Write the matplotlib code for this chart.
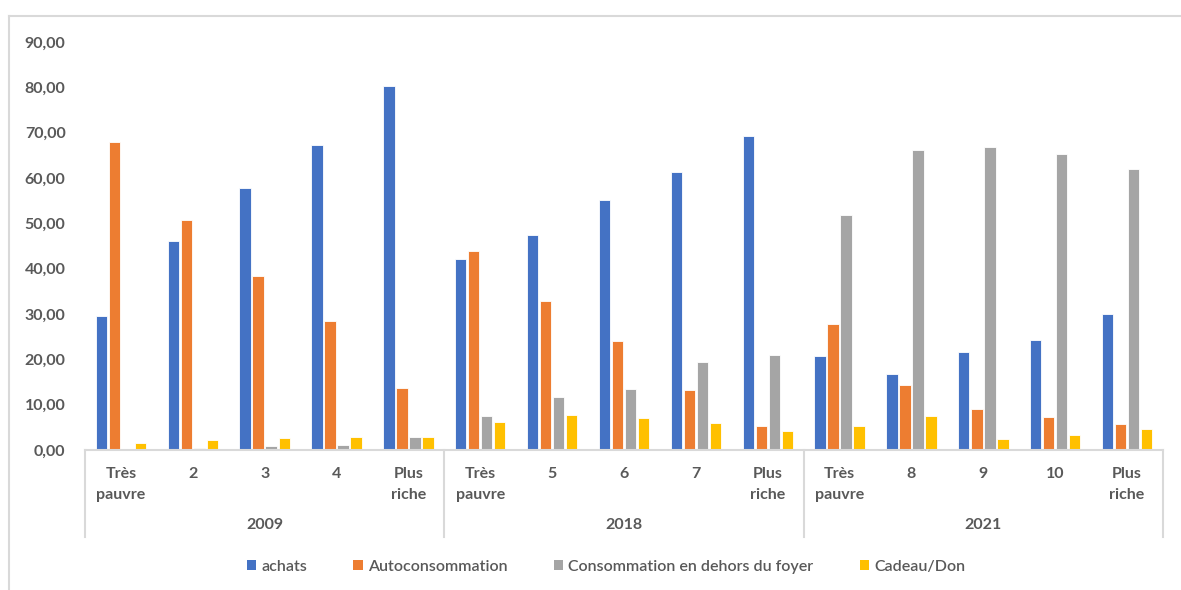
import numpy as np
import matplotlib
matplotlib.use("Agg")
import matplotlib.pyplot as plt
from matplotlib.lines import Line2D
from matplotlib.patches import Patch

plt.rcParams['font.family'] = ['Lato', 'DejaVu Sans']

years = ['2009', '2018', '2021']
categories = ['Très\npauvre', '2', '3', '4', 'Plus\nriche',
              'Très\npauvre', '5', '6', '7', 'Plus\nriche',
              'Très\npauvre', '8', '9', '10', 'Plus\nriche']

achats = [29.6, 46.1, 57.8, 67.3, 80.3,
          42.1, 47.4, 55.2, 61.3, 69.3,
          20.7, 16.8, 21.6, 24.3, 30.0]
autoconso = [68.0, 50.7, 38.4, 28.5, 13.7,
             43.9, 32.9, 24.0, 13.2, 5.3,
             27.8, 14.3, 9.0, 7.3, 5.7]
hors_foyer = [0.0, 0.4, 0.8, 1.0, 2.9,
              7.5, 11.7, 13.4, 19.4, 21.0,
              51.8, 66.2, 66.8, 65.3, 62.0]
cadeau = [1.5, 2.3, 2.6, 2.9, 2.9,
          6.2, 7.7, 7.0, 6.0, 4.2,
          5.3, 7.5, 2.4, 3.3, 4.6]

series = [('achats', achats, '#4472C4'),
          ('Autoconsommation', autoconso, '#ED7D31'),
          ('Consommation en dehors du foyer', hors_foyer, '#A5A5A5'),
          ('Cadeau/Don', cadeau, '#FFC000')]

W, H = 1181, 590
fig = plt.figure(figsize=(W / 100, H / 100), dpi=100)
ax = fig.add_axes([85 / W, (H - 450) / H, (1163 - 85) / W, (450 - 42) / H])

txt = '#595959'
fs = 11.5
x = np.arange(len(categories))
step = 0.181
for i, (name, vals, col) in enumerate(series):
    ax.bar(x + (i - 1.5) * step, vals, width=0.158, color=col,
           edgecolor='white', linewidth=0.6, label=name, zorder=2)

ax.set_xlim(-0.5, len(categories) - 0.5)
ax.set_ylim(0, 90)
ax.set_yticks(np.arange(0, 91, 10))
ax.set_yticklabels([f'{v:.2f}'.replace('.', ',') for v in range(0, 91, 10)],
                   fontsize=fs, fontweight='bold', color=txt)
ax.tick_params(axis='y', length=0, pad=14)
ax.set_xticks(x)
ax.set_xticklabels(categories, fontsize=fs, fontweight='bold', color=txt,
                   linespacing=1.7)
ax.tick_params(axis='x', length=0, pad=12)

for s in ['top', 'right', 'left']:
    ax.spines[s].set_visible(False)
ax.spines['bottom'].set_color('#D9D9D9')
ax.spines['bottom'].set_linewidth(1.5)

# group separators and labels
tr = ax.get_xaxis_transform()
sep_bottom = (450 - 537) / (450 - 42)
for b in [-0.5, 4.5, 9.5, 14.5]:
    ax.add_line(Line2D([b, b], [0, sep_bottom], transform=tr, color='#D9D9D9',
                       linewidth=1.5, clip_on=False))
lab_y = (450 - 525) / (450 - 42)
for g, yr in enumerate(years):
    ax.text(g * 5 + 2, lab_y, yr, transform=tr, ha='center', va='center',
            fontsize=fs, fontweight='bold', color=txt)

# outer chart frame (left and top only visible)
fig.add_artist(Line2D([9 / W, 9 / W], [0, 1 - 16 / H], transform=fig.transFigure,
                      color='#D9D9D9', linewidth=1.5))
fig.add_artist(Line2D([9 / W, 1], [1 - 16 / H, 1 - 16 / H], transform=fig.transFigure,
                      color='#D9D9D9', linewidth=1.5))

handles = [Patch(facecolor=c, edgecolor='none') for _, _, c in series]
fig.legend(handles, [n for n, _, _ in series], loc='center',
           bbox_to_anchor=(606 / W, 1 - 567 / H), ncol=4, frameon=False,
           fontsize=fs, handlelength=0.6, handleheight=0.6, handletextpad=0.3,
           columnspacing=2.9, labelcolor=txt,
           prop={'size': fs, 'weight': 'semibold'})

fig.savefig('out.png', dpi=100)
